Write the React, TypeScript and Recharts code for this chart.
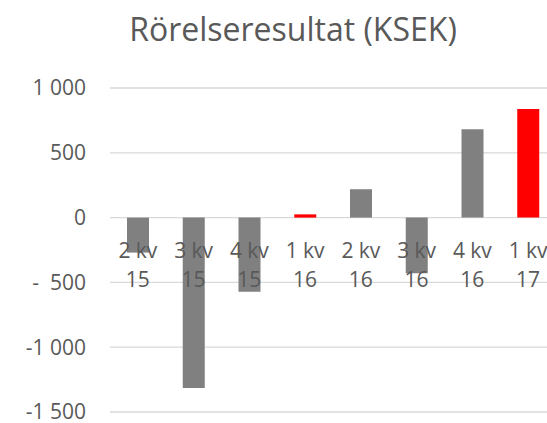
import { BarChart, Bar, XAxis, YAxis, CartesianGrid, Cell } from 'recharts';

const quarters = ['2 kv', '3 kv', '4 kv', '1 kv', '2 kv', '3 kv', '4 kv', '1 kv'];
const years = ['15', '15', '15', '16', '16', '16', '16', '17'];
const values = [-270, -1314, -572, 25, 219, -430, 682, 837];

const yTicks = [-1500, -1000, -500, 0, 500, 1000];
const yTickLabels = ['-1\u00a0500', '-1\u00a0000', '-\u00a0\u00a0500', '0', '500', '1\u00a0000'];

const data = quarters.map((q, i) => ({ name: `${q} ${years[i]}`, value: values[i] }));

const FONT = '"Open Sans", "Noto Sans", sans-serif';
const TEXT = '#595959';

function CategoryTick({ x, y, payload }: any) {
    const i = payload.index;
    return (
        <text x={x} y={y} textAnchor="middle" fill={TEXT} fontSize={21} fontFamily={FONT}>
            <tspan x={x} dy={-154}>{quarters[i]}</tspan>
            <tspan x={x} dy={29}>{years[i]}</tspan>
        </text>
    );
}

export default function App() {
    return (
        <div style={{ position: 'absolute', left: 0, top: 0, width: 547, height: 423, background: '#fff' }}>
            <div
                style={{
                    position: 'absolute',
                    left: 0,
                    top: 9,
                    width: 586,
                    textAlign: 'center',
                    fontFamily: FONT,
                    fontSize: 32,
                    color: TEXT,
                    lineHeight: '40px',
                }}
            >
                Rörelseresultat (KSEK)
            </div>
            <BarChart
                width={547}
                height={423}
                data={data}
                margin={{ top: 88, right: -9, left: 0, bottom: 10 }}
            >
                <CartesianGrid vertical={false} stroke="#D9D9D9" strokeWidth={1.3} />
                <XAxis
                    dataKey="name"
                    height={1}
                    axisLine={false}
                    tickLine={false}
                    tickSize={0}
                    tickMargin={0}
                    interval={0}
                    tick={(props: any) => <CategoryTick {...props} />}
                />
                <YAxis
                    type="number"
                    domain={[-1500, 1000]}
                    ticks={yTicks}
                    interval={0}
                    width={110}
                    axisLine={false}
                    tickLine={false}
                    tickSize={0}
                    tickMargin={24}
                    tick={{ fontSize: 21, fill: TEXT, fontFamily: FONT }}
                    tickFormatter={(v: number) => yTickLabels[yTicks.indexOf(v)]}
                />
                <Bar dataKey="value" barSize={22} isAnimationActive={false}>
                    {data.map((d, i) => (
                        <Cell key={`cell-${i}`} fill={quarters[i] === '1 kv' ? '#FF0000' : '#808080'} />
                    ))}
                </Bar>
            </BarChart>
        </div>
    );
}
